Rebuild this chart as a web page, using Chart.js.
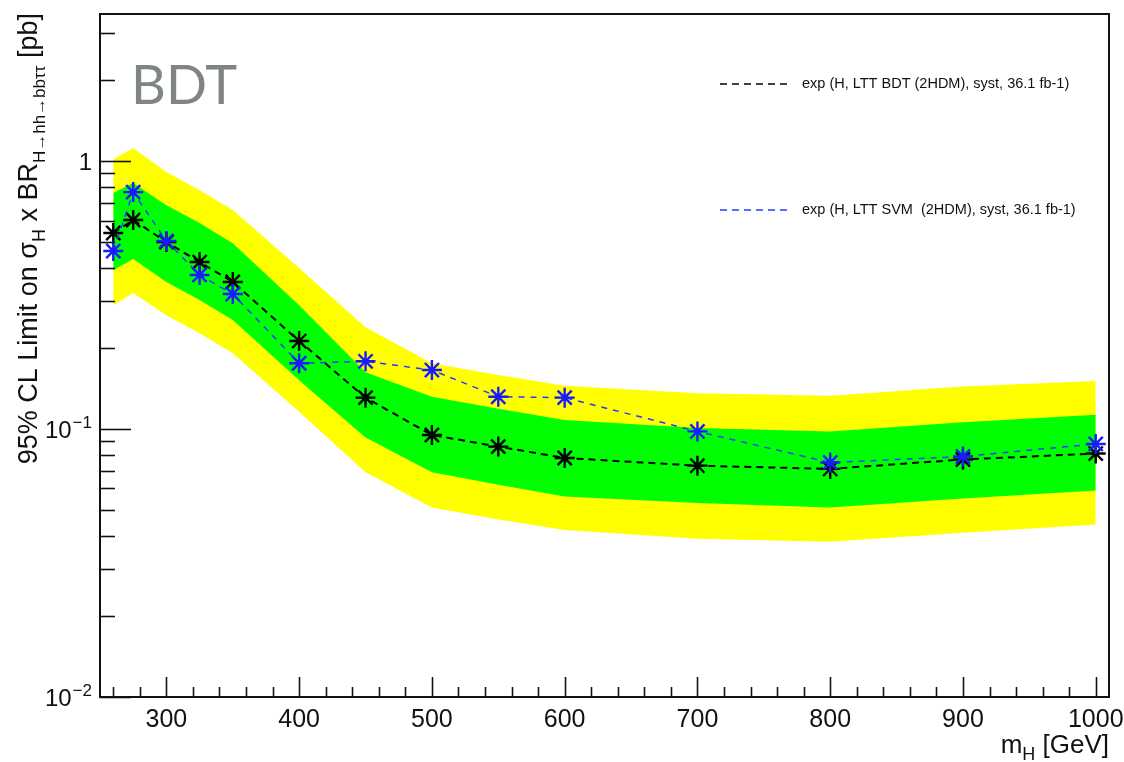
<!DOCTYPE html>
<html>
	<head>
		<meta charset="utf-8">
		<title>Expected limits BDT vs SVM</title>
		<style>
			body { margin: 0; background: #fff; }
			canvas { display: block; }
		</style>
	</head>
	<body>
		<canvas id="limitChart" width="1124" height="762"></canvas>

		<script src="https://cdn.jsdelivr.net/npm/chart.js"></script>
		<script>
			// mass points [GeV]
			var massPoints = [260, 275, 300, 325, 350, 400, 450, 500, 550, 600, 700, 800, 900, 1000];

			// expected limits [pb]
			var expBDT = [0.539, 0.603, 0.499, 0.420, 0.354, 0.213, 0.131, 0.095, 0.086, 0.078, 0.073, 0.071, 0.077, 0.081];
			var expSVM = [0.462, 0.766, 0.503, 0.376, 0.319, 0.176, 0.179, 0.166, 0.132, 0.131, 0.098, 0.075, 0.079, 0.088];

			// bands around the expected limit
			var band2Up = [1.017, 1.118, 0.910, 0.779, 0.657, 0.399, 0.240, 0.176, 0.159, 0.145, 0.136, 0.133, 0.144, 0.151];
			var band1Up = [0.760, 0.828, 0.685, 0.587, 0.494, 0.290, 0.163, 0.132, 0.119, 0.108, 0.101, 0.098, 0.106, 0.113];
			var band1Dn = [0.392, 0.431, 0.354, 0.303, 0.255, 0.152, 0.093, 0.069, 0.062, 0.056, 0.053, 0.051, 0.055, 0.059];
			var band2Dn = [0.290, 0.322, 0.266, 0.228, 0.192, 0.116, 0.069, 0.051, 0.046, 0.042, 0.039, 0.038, 0.041, 0.044];

			// axis ticks
			var xTickLabels = [300, 400, 500, 600, 700, 800, 900, 1000];
			var yDecades = [0.01, 0.1, 1];
			var yDecadeExp = ["\u22122", "\u22121", ""];

			var legendLabels = ["exp (H, LTT BDT (2HDM), syst, 36.1 fb-1)", "exp (H, LTT SVM  (2HDM), syst, 36.1 fb-1)"];

			var FONT = "'Liberation Sans', Helvetica, Arial, sans-serif";

			function toPoints(ys) {
				return massPoints.map(function(m, i) { return {x: m, y: ys[i]}; });
			}

			// draw a run of [text, size, baseline shift] pieces starting at x
			function drawRuns(ctx, runs, x, y) {
				runs.forEach(function(p) {
					ctx.font = p[1] + 'px ' + FONT;
					ctx.fillText(p[0], x, y + p[2]);
					x += ctx.measureText(p[0]).width;
				});
			}
			function runsWidth(ctx, runs) {
				var w = 0;
				runs.forEach(function(p) { ctx.font = p[1] + 'px ' + FONT; w += ctx.measureText(p[0]).width; });
				return w;
			}

			// ROOT style frame, inner ticks, labels, titles and legend
			var rootStyle = {
				id: 'rootStyle',
				afterDraw: function(chart) {
					var ctx = chart.ctx;
					var area = chart.chartArea;
					var xs = chart.scales.x;
					var ys = chart.scales.y;

					ctx.save();
					ctx.strokeStyle = '#111';
					ctx.lineWidth = 1.6;

					// x ticks (inside, from the bottom)
					for (var m = 260; m <= 1000; m += 20) {
						var px = Math.round(xs.getPixelForValue(m)) + 0.5;
						var len = (m % 100 === 0) ? 20 : 10;
						ctx.beginPath();
						ctx.moveTo(px, area.bottom);
						ctx.lineTo(px, area.bottom - len);
						ctx.stroke();
					}

					// y ticks (inside, from the left)
					for (var d = 0; d < yDecades.length; d++) {
						for (var k = 1; k <= 9; k++) {
							var v = yDecades[d] * k;
							if (v > ys.max) break;
							var py = Math.round(ys.getPixelForValue(v)) + 0.5;
							ctx.beginPath();
							ctx.moveTo(area.left, py);
							ctx.lineTo(area.left + (k === 1 ? 31 : 15), py);
							ctx.stroke();
						}
					}

					// frame
					ctx.lineWidth = 2;
					ctx.strokeRect(area.left, area.top, area.right - area.left, area.bottom - area.top);

					ctx.fillStyle = '#111';
					ctx.textBaseline = 'alphabetic';

					// x tick labels
					ctx.font = '25px ' + FONT;
					ctx.textAlign = 'center';
					xTickLabels.forEach(function(t) {
						ctx.fillText(String(t), xs.getPixelForValue(t), 727);
					});

					// y tick labels with superscripts
					ctx.textAlign = 'right';
					yDecades.forEach(function(v, i) {
						var py = ys.getPixelForValue(v);
						var right = 92;
						if (yDecadeExp[i] === "") {
							ctx.font = '24px ' + FONT;
							ctx.fillText("1", right, py + 9);
						} else {
							ctx.font = '17px ' + FONT;
							ctx.fillText(yDecadeExp[i], right, py - 1);
							var ew = ctx.measureText(yDecadeExp[i]).width;
							ctx.font = '24px ' + FONT;
							ctx.fillText("10", right - ew - 1, py + 9);
						}
					});

					// x axis title, right aligned at the frame end
					ctx.textAlign = 'left';
					var xRuns = [["m", 26, 0], ["H", 18, 7], [" [GeV]", 26, 0]];
					drawRuns(ctx, xRuns, area.right - runsWidth(ctx, xRuns), 753);

					// y axis title, rotated, right aligned at the top
					var yRuns = [["95% CL Limit on \u03c3", 27, 0], ["H", 18, 8], [" x BR", 27, 0],
						["H\u2192hh\u2192bb\u03c4\u03c4", 17, 8], [" [pb]", 27, 0]];
					var total = runsWidth(ctx, yRuns);
					ctx.save();
					ctx.translate(37, 13);
					ctx.rotate(-Math.PI / 2);
					drawRuns(ctx, yRuns, -total, 0);
					ctx.restore();

					// legend
					var legendColors = ['#000000', '#1f3cff'];
					var legendY = [84, 210];
					ctx.textBaseline = 'middle';
					for (var j = 0; j < legendLabels.length; j++) {
						ctx.strokeStyle = legendColors[j];
						ctx.lineWidth = 1.5;
						ctx.setLineDash([7, 5]);
						ctx.beginPath();
						ctx.moveTo(720, legendY[j]);
						ctx.lineTo(790, legendY[j]);
						ctx.stroke();
						ctx.setLineDash([]);
						ctx.fillStyle = '#111';
						ctx.font = '14.5px ' + FONT;
						ctx.fillText(legendLabels[j], 802, legendY[j]);
					}

					// method tag
					ctx.font = '400 54px Lato, ' + FONT;
					ctx.fillStyle = '#7f8484';
					ctx.textBaseline = 'alphabetic';
					ctx.fillText("BDT", 131, 104);

					ctx.restore();
				}
			};

			var chart = new Chart(document.getElementById('limitChart'), {
				type: 'line',
				data: {
					datasets: [
						{
							label: 'BDT',
							data: toPoints(expBDT),
							borderColor: '#000000',
							borderWidth: 2,
							borderDash: [7, 5],
							pointStyle: 'star',
							pointRadius: 10,
							pointBorderWidth: 2.4,
							pointBorderColor: '#000000',
							fill: false,
							order: 1
						},
						{
							label: 'SVM',
							data: toPoints(expSVM),
							borderColor: '#1f3cff',
							borderWidth: 1.5,
							borderDash: [6, 6],
							pointStyle: 'star',
							pointRadius: 10,
							pointBorderWidth: 2.4,
							pointBorderColor: '#1a1aff',
							fill: false,
							order: 0
						},
						{
							label: '1 sigma up',
							data: toPoints(band1Up),
							borderWidth: 0,
							pointRadius: 0,
							backgroundColor: '#00ff00',
							fill: 4,
							order: 5
						},
						{
							label: '2 sigma up',
							data: toPoints(band2Up),
							borderWidth: 0,
							pointRadius: 0,
							backgroundColor: '#ffff00',
							fill: 5,
							order: 6
						},
						{
							label: '1 sigma down',
							data: toPoints(band1Dn),
							borderWidth: 0,
							pointRadius: 0,
							fill: false,
							order: 5
						},
						{
							label: '2 sigma down',
							data: toPoints(band2Dn),
							borderWidth: 0,
							pointRadius: 0,
							fill: false,
							order: 6
						}
					]
				},
				options: {
					responsive: false,
					animation: false,
					devicePixelRatio: 1,
					layout: { padding: { left: 100, top: 14, right: 15, bottom: 65 } },
					elements: { line: { tension: 0 } },
					plugins: {
						legend: { display: false },
						tooltip: { enabled: false }
					},
					scales: {
						x: { type: 'linear', min: 250, max: 1010, display: false },
						y: { type: 'logarithmic', min: 0.01, max: 3.54, display: false }
					}
				},
				plugins: [rootStyle]
			});
		</script>
	</body>
</html>
